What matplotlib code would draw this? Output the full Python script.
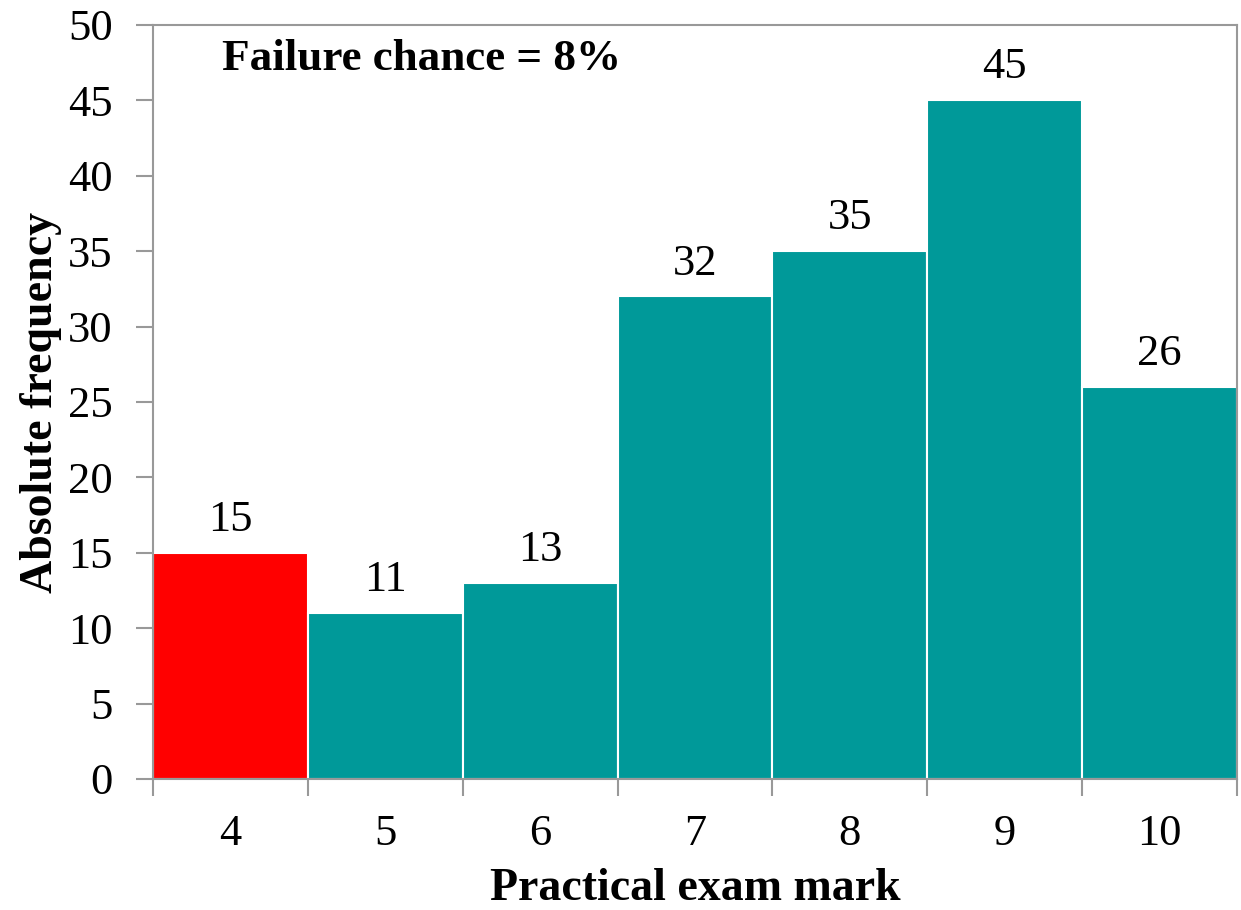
import matplotlib
matplotlib.use("Agg")
import matplotlib.pyplot as plt
import numpy as np

marks = [4, 5, 6, 7, 8, 9, 10]
freqs = [15, 11, 13, 32, 35, 45, 26]
colors = ["#FF0000", "#009999", "#009999", "#009999", "#009999", "#009999", "#009999"]
yticks = [0, 5, 10, 15, 20, 25, 30, 35, 40, 45, 50]
annotation = "Failure chance = 8%"

plt.rcParams['font.family'] = ['Liberation Serif']

fig = plt.figure(figsize=(12.41, 9.10), dpi=100)
ax = fig.add_axes([0.1233, 0.1440, 0.8735, 0.8286])

x = np.arange(len(marks))
ax.bar(x, freqs, width=1.0, color=colors, edgecolor="white", linewidth=1.5)
for xi, v in zip(x, freqs):
    ax.text(xi, v + 1.45, str(v), ha="center", va="baseline", fontsize=32)

ax.set_xlim(-0.5, len(marks) - 0.5)
ax.set_ylim(0, 50)
ax.set_yticks(yticks)
ax.set_yticklabels([str(t) for t in yticks], fontsize=32)
ax.set_xticks(x)
ax.set_xticklabels([str(m) for m in marks], fontsize=32)
ax.set_xticks(np.arange(-0.5, len(marks), 1.0), minor=True)
ax.tick_params(axis="x", which="major", length=0, pad=25)
ax.tick_params(axis="x", which="minor", length=12, color="#999999", width=1.5)
ax.tick_params(axis="y", length=12, color="#999999", width=1.5, pad=17)

for s in ["left", "bottom", "top", "right"]:
    ax.spines[s].set_color("#999999")
    ax.spines[s].set_linewidth(1.5)

ax.set_xlabel("Practical exam mark", fontsize=33, fontweight="bold", labelpad=10)
ax.set_ylabel("Absolute frequency", fontsize=33, fontweight="bold", labelpad=4)
ax.text(-0.055, 47.0, annotation, fontsize=32.5,
        fontweight="bold", ha="left", va="baseline")

fig.savefig("out.png", dpi=100)
